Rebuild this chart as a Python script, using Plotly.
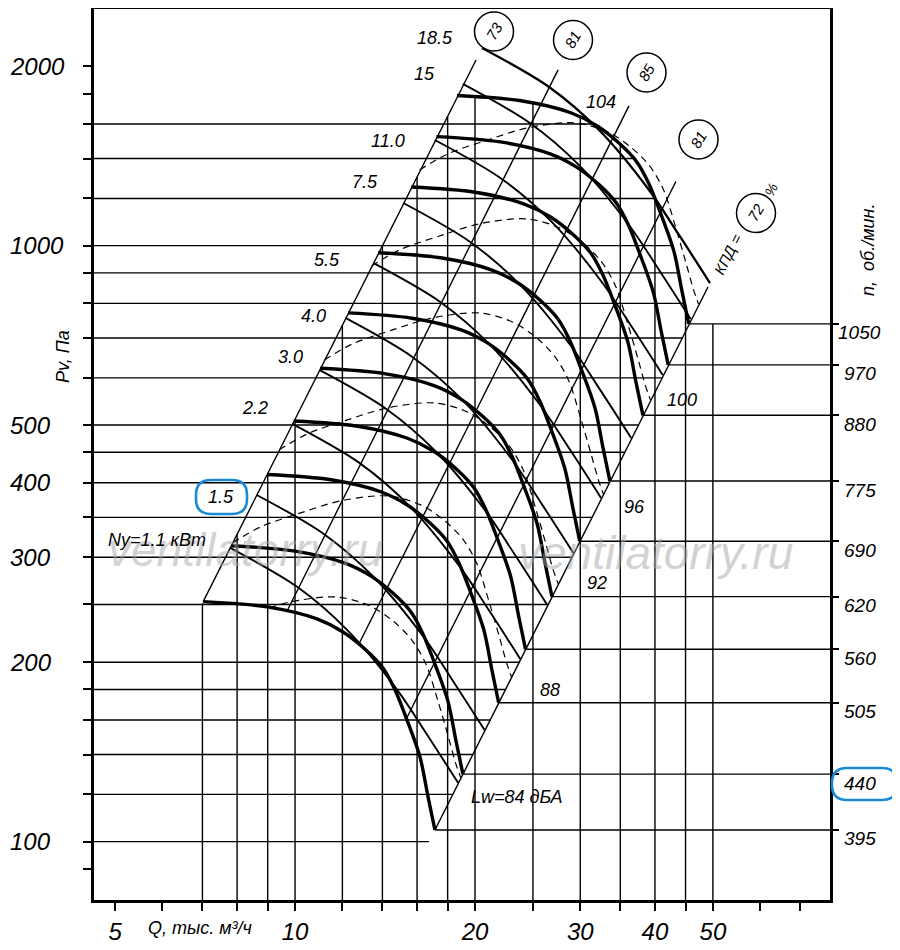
import numpy as np
import plotly.graph_objects as go

# ============================ DATA ============================
rpm = [395, 440, 505, 560, 620, 690, 775, 880, 970, 1050]

# fan curves Pv(Q), Q in thousand m3/h, Pv in Pa
Q_395 = [7.02, 8.98, 10.88, 12.03, 13.14, 14.03, 14.70, 15.39, 16.18, 16.69, 17.14]
P_395 = [252.7, 247.6, 236.4, 224.8, 209.7, 195.6, 179.7, 160.0, 138.7, 118.9, 104.6]
Q_440 = [7.82, 10.00, 12.12, 13.40, 14.64, 15.63, 16.37, 17.14, 18.02, 18.59, 19.09]
P_440 = [313.6, 307.2, 293.3, 278.9, 260.2, 242.7, 223.0, 198.5, 172.1, 147.5, 129.8]
Q_505 = [8.98, 11.48, 13.91, 15.38, 16.80, 17.94, 18.79, 19.68, 20.69, 21.34, 21.91]
P_505 = [413.0, 404.7, 386.4, 367.4, 342.8, 319.7, 293.7, 261.5, 226.7, 194.3, 171.0]
Q_560 = [9.95, 12.73, 15.42, 17.06, 18.63, 19.89, 20.84, 21.82, 22.94, 23.66, 24.30]
P_560 = [507.9, 497.7, 475.1, 451.8, 421.5, 393.1, 361.2, 321.6, 278.8, 239.0, 210.2]
Q_620 = [11.02, 14.10, 17.08, 18.88, 20.62, 22.02, 23.07, 24.16, 25.40, 26.20, 26.90]
P_620 = [622.6, 610.0, 582.4, 553.8, 516.6, 481.9, 442.7, 394.2, 341.7, 292.9, 257.7]
Q_690 = [12.26, 15.69, 19.01, 21.01, 22.95, 24.51, 25.68, 26.88, 28.26, 29.16, 29.94]
P_690 = [771.1, 755.5, 721.4, 686.0, 639.9, 596.9, 548.3, 488.2, 423.2, 362.8, 319.2]
Q_775 = [13.77, 17.62, 21.35, 23.60, 25.78, 27.53, 28.84, 30.20, 31.75, 32.75, 33.63]
P_775 = [972.8, 953.2, 910.0, 865.4, 807.3, 753.0, 691.8, 615.9, 533.9, 457.7, 402.7]
Q_880 = [15.64, 20.01, 24.24, 26.80, 29.27, 31.26, 32.75, 34.29, 36.05, 37.18, 38.19]
P_880 = [1254, 1229, 1173, 1116, 1041, 970.8, 891.9, 794.1, 688.4, 590.1, 519.2]
Q_970 = [17.24, 22.05, 26.72, 29.54, 32.27, 34.45, 36.10, 37.79, 39.73, 40.99, 42.09]
P_970 = [1524, 1493, 1426, 1356, 1265, 1180, 1084, 964.9, 836.4, 717.0, 630.8]
Q_1050 = [18.66, 23.87, 28.92, 31.98, 34.93, 37.30, 39.08, 40.91, 43.01, 44.37, 45.56]
P_1050 = [1786, 1750, 1671, 1589, 1482, 1382, 1270, 1131, 980.1, 840.2, 739.1]

# motor power lines Ny, kW
N_kW = ["1.1", "1.5", "2.2", "3.0", "4.0", "5.5", "7.5", "11.0", "15", "18.5"]
QN_1_1 = [7.789, 10.08, 12.22, 14.82, 16.63, 18.74]
PN_1_1 = [311.1, 267.6, 226.6, 179.7, 151.1, 125.5]
QN_1_5 = [8.627, 11.17, 13.54, 16.41, 18.42, 20.75]
PN_1_5 = [381.6, 328.3, 278.0, 220.5, 185.3, 153.9]
QN_2_2 = [9.896, 12.81, 15.53, 18.82, 21.13, 23.81]
PN_2_2 = [502.2, 432.0, 365.9, 290.1, 243.9, 202.5]
QN_3_0 = [10.98, 14.21, 17.23, 20.89, 23.44, 26.42]
PN_3_0 = [618.6, 532.1, 450.6, 357.4, 300.5, 249.5]
QN_4_0 = [12.14, 15.71, 19.05, 23.09, 25.92, 29.21]
PN_4_0 = [756.3, 650.6, 551.0, 436.9, 367.3, 305.0]
QN_5_5 = [13.51, 17.49, 21.20, 25.70, 28.85, 32.50]
PN_5_5 = [935.3, 804.5, 681.4, 540.3, 454.3, 377.2]
QN_7_5 = [15.17, 19.63, 23.80, 28.86, 32.39, 36.50]
PN_7_5 = [1179, 1014.5, 859.2, 681.3, 572.8, 475.6]
QN_11 = [17.13, 22.17, 26.88, 32.59, 36.58, 41.21]
PN_11 = [1504, 1294, 1096, 869.1, 730.7, 606.7]
QN_15 = [19.08, 24.70, 29.94, 36.29, 40.74, 45.90]
PN_15 = [1868, 1606, 1361, 1079, 907.0, 753.2]
QN_18_5 = [20.55, 26.60, 32.25, 39.09, 43.88, 49.44]
PN_18_5 = [2146, 1846, 1563, 1240, 1042, 865.5]

# dashed curves
QD1 = [16.16, 18.00, 21.00, 24.49, 29.35, 33.33, 36.41, 39.18, 41.35, 43.30, 45.18, 46.41, 47.31]
PD1 = [1340, 1425, 1504, 1576, 1607, 1552, 1464, 1361, 1240, 1075, 928.1, 842.7, 798.2]
QD2 = [13.43, 14.96, 17.45, 20.36, 24.39, 27.70, 30.26, 32.56, 34.36, 35.99, 37.55, 38.57, 39.32]
PD2 = [924.6, 983.6, 1038, 1088, 1109, 1071, 1011, 939.0, 855.9, 741.8, 640.5, 581.6, 550.9]
QD3 = [11.20, 12.47, 14.55, 16.98, 20.34, 23.10, 25.24, 27.15, 28.66, 30.01, 31.31, 32.17, 32.79]
PD3 = [643.0, 684.0, 722.0, 756.3, 771.0, 744.7, 702.8, 653.0, 595.2, 515.9, 445.4, 404.4, 383.1]
QD4 = [9.412, 10.48, 12.23, 14.27, 17.10, 19.41, 21.21, 22.82, 24.08, 25.22, 26.31, 27.03, 27.56]
PD4 = [454.2, 483.2, 510.0, 534.2, 544.6, 526.1, 496.4, 461.3, 420.5, 364.4, 314.6, 285.7, 270.6]
QD5 = [7.864, 8.759, 10.22, 11.92, 14.28, 16.22, 17.72, 19.07, 20.12, 21.07, 21.99, 22.59, 23.02]
PD5 = [317.1, 337.3, 356.1, 373.0, 380.2, 367.3, 346.6, 322.0, 293.5, 254.4, 219.7, 199.5, 188.9]
QD6 = [9.05, 9.805, 11.75, 13.34, 14.58, 15.68, 16.55, 17.34, 18.09, 18.58, 18.94]
PD6 = [246.5, 252.4, 257.3, 248.6, 234.6, 217.9, 198.7, 172.2, 148.7, 135.0, 127.9]

# efficiency rays (P ~ Q^2)
eff_labels = ["73", "81", "85", "81", "72"]
Q_LB, P_LB = [7.02, 20.08], [252.7, 2049]      # 73 % (left boundary)
Q_E81a, P_E81a = [9.697, 27.54], [243.8, 1972]
Q_E85, P_E85 = [12.79, 36.19], [214.6, 1716]
Q_E81b, P_E81b = [15.36, 43.36], [160.9, 1281]
Q_RB, P_RB = [17.14, 49.06], [104.6, 852.3]    # 72 % (right boundary)

noise_db = ["Lw=84 дБА", "88", "92", "96", "100", "104"]

grid_Q = [7, 8, 9, 10, 12, 14, 16, 18, 20, 25, 30, 35, 40, 45, 50]
grid_P = [100, 120, 140, 160, 180, 200, 250, 300, 350, 400, 450, 500,
          600, 700, 800, 900, 1000, 1200, 1400, 1600]
x_ticks = [5, 6, 7, 8, 9, 10, 12, 14, 16, 18, 20, 25, 30, 35, 40, 45, 50, 60, 70]
x_tick_labels = ["5", "", "", "", "", "10", "", "", "", "", "20", "", "30", "", "40", "", "50", "", ""]
y_ticks = [90, 100, 120, 140, 160, 180, 200, 250, 300, 350, 400, 450, 500,
           600, 700, 800, 900, 1000, 1200, 1400, 1600, 1800, 2000]
y_labels = [100, 200, 300, 400, 500, 1000, 2000]

X_RANGE = [4.61, 78.5]
Y_RANGE = [79.8, 2495]

# ============================ LAYOUT HELPERS ============================
# the page body adds an 8 px offset, so the figure is 892x942 placed at (8, 8)
OFF = 8
W, H = 892, 942
ML, MR, MT, MB = 86, 70, 1, 50
PW, PH = W - ML - MR, H - MT - MB
FONT = "Liberation Sans"
lg = np.log10


def paper(xp, yp):
    """page pixel -> paper coordinates"""
    return (xp - OFF - ML) / PW, (H - MB - (yp - OFF)) / PH


fig = go.Figure()


def add_line(Q, P, width, dash=None, spline=False, yaxis="y"):
    fig.add_trace(go.Scatter(
        x=Q, y=P, mode="lines", yaxis=yaxis, hoverinfo="skip", showlegend=False,
        line=dict(color="black", width=width, dash=dash,
                  shape="spline" if spline else "linear", smoothing=0.9)))


# ----- grid clipped by the working band -----
lb_k = (lg(P_LB[1]) - lg(P_LB[0])) / (lg(Q_LB[1]) - lg(Q_LB[0]))
rb_k = (lg(P_RB[1]) - lg(P_RB[0])) / (lg(Q_RB[1]) - lg(Q_RB[0]))
Qt, Pt = np.array(Q_1050), np.array(P_1050)


def left_P(q):
    return 10 ** (lg(P_LB[0]) + lb_k * (lg(q) - lg(Q_LB[0])))


def right_Q(p):
    return 10 ** (lg(Q_RB[0]) + (lg(p) - lg(P_RB[0])) / rb_k)


def top_P(q):
    if q < Qt[0]:
        return np.inf
    if q > Qt[-1]:
        return Pt[-1]
    return 10 ** np.interp(lg(q), lg(Qt), lg(Pt))


def top_Q(p):
    if p < Pt[-1]:
        return np.inf
    return 10 ** np.interp(lg(p), lg(Pt[::-1]), lg(Qt[::-1]))


vx, vy = [], []
for q in grid_Q:
    vx += [q, q, None]
    vy += [Y_RANGE[0], min(left_P(q), top_P(q)), None]
hx, hy = [], []
for p in grid_P:
    hx += [X_RANGE[0], min(right_Q(p), top_Q(p)), None]
    hy += [p, p, None]
add_line(vx, vy, 1.4)
add_line(hx, hy, 1.4)

fan_Q = [Q_395, Q_440, Q_505, Q_560, Q_620, Q_690, Q_775, Q_880, Q_970, Q_1050]
fan_P = [P_395, P_440, P_505, P_560, P_620, P_690, P_775, P_880, P_970, P_1050]

# rpm reference lines to the right axis
rx, ry = [], []
for q, p in zip(fan_Q, fan_P):
    rx += [q[-1], X_RANGE[1], None]
    ry += [p[-1], p[-1], None]
add_line(rx, ry, 1.4, yaxis="y2")

# efficiency rays and band boundaries
for q, p in [(Q_LB, P_LB), (Q_E81a, P_E81a), (Q_E85, P_E85), (Q_E81b, P_E81b), (Q_RB, P_RB)]:
    add_line(q, p, 1.4)

# dashed curves
for q, p in [(QD1, PD1), (QD2, PD2), (QD3, PD3), (QD4, PD4), (QD5, PD5), (QD6, PD6)]:
    add_line(q, p, 1.2, dash="7px,5px", spline=True)

# power lines
powerQ = [QN_1_1, QN_1_5, QN_2_2, QN_3_0, QN_4_0, QN_5_5, QN_7_5, QN_11, QN_15, QN_18_5]
powerP = [PN_1_1, PN_1_5, PN_2_2, PN_3_0, PN_4_0, PN_5_5, PN_7_5, PN_11, PN_15, PN_18_5]
for i, (q, p) in enumerate(zip(powerQ, powerP)):
    add_line(q, p, 2.3 if i == len(powerQ) - 1 else 1.9, spline=True)

# fan curves
for q, p in zip(fan_Q, fan_P):
    add_line(q, p, 3.4, spline=True)

# ============================ TEXT ============================
ann = []


def text(t, xp, yp, size=18, angle=0, xanchor="center", color="black"):
    x, y = paper(xp, yp)
    ann.append(dict(text=t, x=x, y=y, xref="paper", yref="paper", showarrow=False,
                    xanchor=xanchor, yanchor="middle", textangle=angle,
                    font=dict(family=FONT, size=size, color=color, style="italic")))


# watermark
text("ventilatorry.ru", 245, 550, size=46, color="rgba(165,165,165,0.5)")
text("ventilatorry.ru", 655, 553, size=46, color="rgba(165,165,165,0.5)")

# left axis labels (left aligned as in the reference)
for v in y_labels:
    ann.append(dict(text=str(v), x=paper(8, 0)[0], y=lg(v), xref="paper", yref="y",
                    showarrow=False, xanchor="left", yanchor="middle",
                    font=dict(family=FONT, size=24, color="black", style="italic")))

# rpm labels on the right
for n, p in zip(rpm, fan_P):
    ann.append(dict(text=str(n), x=paper(860, 0)[0], y=lg(p[-1]), xref="paper", yref="y",
                    yshift=-9, showarrow=False, xanchor="center", yanchor="middle",
                    font=dict(family=FONT, size=19, color="black", style="italic")))

# motor power labels
power_pos = [(157, 540), (221, 497), (255, 408), (290, 357), (313, 316),
             (327, 260), (365, 182), (388, 141), (424, 74), (435, 38)]
for i, (lab, (xp, yp)) in enumerate(zip(N_kW, power_pos)):
    text("Ny=" + lab + " кВт" if i == 0 else lab, xp, yp, size=18)

# noise labels
noise_pos = [(517, 797), (550, 690), (597, 583), (634, 507), (682, 400), (601, 102)]
for lab, (xp, yp) in zip(noise_db, noise_pos):
    text(lab, xp, yp, size=18)

# efficiency circles
shapes = []
circ_pos = [(494, 31.5), (573, 40), (646.5, 72.5), (698.5, 139.5), (756, 213)]
R = 19.5
for lab, (cx, cy) in zip(eff_labels, circ_pos):
    x0, y1 = paper(cx - R, cy - R)
    x1, y0 = paper(cx + R, cy + R)
    shapes.append(dict(type="circle", xref="paper", yref="paper", x0=x0, x1=x1, y0=y0, y1=y1,
                       line=dict(color="black", width=1.5)))
    text(lab, cx, cy, size=15, angle=-60)
text("КПД =", 728, 255, size=15, angle=-63)
text("%", 771, 190, size=14, angle=-63)

# axis titles
text("Pv, Па", 63, 357, size=18, angle=-90)
text("n,  об./мин.", 868, 250, size=18, angle=-90)
text("Q, тыс. м³/ч", 200, 928, size=18)


# blue highlight frames
def rrect(x0, y0, x1, y1, r):
    def P(x, y):
        a, b = paper(x, y)
        return f"{a:.5f},{b:.5f}"
    return (f"M {P(x0 + r, y0)} L {P(x1 - r, y0)} Q {P(x1, y0)} {P(x1, y0 + r)} "
            f"L {P(x1, y1 - r)} Q {P(x1, y1)} {P(x1 - r, y1)} L {P(x0 + r, y1)} "
            f"Q {P(x0, y1)} {P(x0, y1 - r)} L {P(x0, y0 + r)} Q {P(x0, y0)} {P(x0 + r, y0)} Z")


for box in [(196, 480, 247, 514), (832, 768, 897, 800)]:
    shapes.append(dict(type="path", xref="paper", yref="paper", path=rrect(*box, 15),
                       line=dict(color="#1a8ad6", width=2.6)))

# ============================ AXES ============================
fig.update_layout(
    width=W, height=H, margin=dict(l=ML, r=MR, t=MT, b=MB, autoexpand=False),
    paper_bgcolor="white", plot_bgcolor="white", showlegend=False,
    font=dict(family=FONT, color="black"),
    xaxis=dict(type="log", range=[lg(X_RANGE[0]), lg(X_RANGE[1])], automargin=False,
               tickvals=x_ticks, ticktext=x_tick_labels, ticks="outside", ticklen=8,
               tickwidth=1.5, tickcolor="black", showgrid=False, zeroline=False,
               showline=True, linewidth=3, linecolor="black", mirror=True,
               tickfont=dict(family=FONT, size=24, style="italic")),
    yaxis=dict(type="log", range=[lg(Y_RANGE[0]), lg(Y_RANGE[1])], automargin=False,
               tickvals=y_ticks, showticklabels=False, ticks="outside", ticklen=8,
               tickwidth=1.5, tickcolor="black", showgrid=False, zeroline=False,
               showline=True, linewidth=3, linecolor="black", mirror=True),
    yaxis2=dict(type="log", range=[lg(Y_RANGE[0]), lg(Y_RANGE[1])], overlaying="y",
                side="right", tickvals=[p[-1] for p in fan_P], showticklabels=False,
                ticks="outside", ticklen=8, tickwidth=1.5, tickcolor="black", automargin=False,
                showgrid=False, zeroline=False, showline=False),
    annotations=ann, shapes=shapes,
)

fig.write_html("out.html")
